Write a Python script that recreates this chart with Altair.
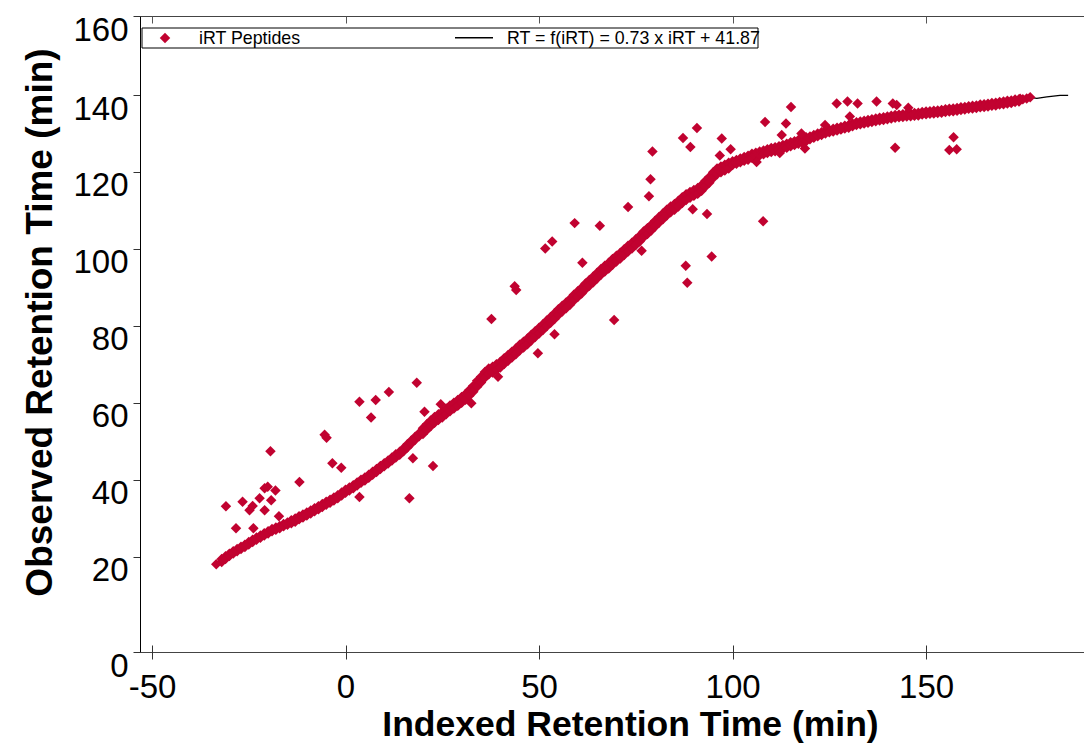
import altair as alt
import pandas as pd

# ---- data ----
band_irt = [-32, -31, -30, -29, -28, -27, -26, -25, -24, -23, -22, -21, -20, -19, -18, -17, -16, -15,
            -14, -13, -12, -11, -10, -9, -8, -7, -6, -5, -4, -3, -2, -1, 0, 1, 2, 3, 4, 5, 6, 7, 8, 9,
            10, 11, 12, 13, 14, 15, 16, 17, 18, 19, 20, 21, 22, 23, 24, 25, 26, 27, 28, 29, 30, 31, 32,
            33, 34, 35, 36, 37, 38, 39, 40, 41, 42, 43, 44, 45, 46, 47, 48, 49, 50, 51, 52, 53, 54, 55,
            56, 57, 58, 59, 60, 61, 62, 63, 64, 65, 66, 67, 68, 69, 70, 71, 72, 73, 74, 75, 76, 77, 78,
            79, 80, 81, 82, 83, 84, 85, 86, 87, 88, 89, 90, 91, 92, 93, 94, 95, 96, 97, 98, 99, 100, 101,
            102, 103, 104, 105, 106, 107, 108, 109, 110, 111, 112, 113, 114, 115, 116, 117, 118, 119, 120,
            121, 122, 123, 124, 125, 126, 127, 128, 129, 130, 131, 132, 133, 134, 135, 136, 137, 138, 139,
            140, 141, 142, 143, 144, 145, 146, 147, 148, 149, 150, 151, 152, 153, 154, 155, 156, 157, 158,
            159, 160, 161, 162, 163, 164, 165, 166, 167, 168, 169, 170, 171, 172, 173, 174]

band_rt_hi = [19.5, 20.1, 20.8, 21.4, 22.0, 22.6, 23.1, 23.8, 24.4, 25.0, 25.5, 26.1, 26.6, 27.2, 27.6, 28.0, 28.5, 28.9,
              29.5, 29.9, 30.5, 31.0, 31.5, 32.0, 32.6, 33.1, 33.7, 34.3, 34.8, 35.4, 36.0, 36.7, 37.4, 38.0, 38.6, 39.3, 40.0, 40.6, 41.3, 42.1, 42.8, 43.6,
              44.3, 45.0, 45.8, 46.6, 47.3, 48.2, 49.2, 50.2, 51.2, 52.1, 53.4, 54.4, 55.4, 56.3, 57.0, 57.7, 58.5, 59.3, 60.0, 60.7, 61.5, 62.3, 63.3,
              64.4, 65.7, 66.8, 68.0, 68.9, 69.4, 70.0, 70.7, 71.6, 72.4, 73.3, 74.1, 75.1, 75.9, 76.7, 77.7, 78.6, 79.5, 80.4, 81.4, 82.3, 83.3, 84.3,
              85.2, 86.1, 87.0, 88.1, 89.0, 89.9, 91.0, 91.9, 92.8, 93.8, 94.8, 95.6, 96.4, 97.4, 98.2, 99.0, 99.9, 100.8, 101.6, 102.5, 103.4, 104.5, 105.4,
              106.3, 107.3, 108.3, 109.2, 110.2, 111.0, 111.7, 112.5, 113.4, 114.2, 114.8, 115.3, 115.8, 116.6, 117.7, 118.7, 119.9, 120.9, 121.4, 121.9, 122.4, 122.8, 123.1,
              123.5, 123.9, 124.2, 124.7, 125.0, 125.3, 125.6, 125.9, 126.2, 126.4, 126.7, 127.0, 127.3, 127.7, 128.0, 128.3, 128.6, 129.0, 129.2,
              129.6, 130.0, 130.3, 130.7, 131.0, 131.2, 131.5, 131.7, 132.0, 132.2, 132.6, 132.9, 133.1, 133.3, 133.5, 133.7, 133.9, 134.1, 134.2,
              134.4, 134.6, 134.8, 134.9, 135.0, 135.1, 135.2, 135.3, 135.4, 135.6, 135.7, 135.8, 135.9, 136.0, 136.1, 136.3, 136.4, 136.5, 136.6,
              136.8, 136.9, 137.1, 137.2, 137.3, 137.5, 137.6, 137.7, 137.9, 138.0, 138.2, 138.3, 138.5, 138.6, 138.8, 138.9]

band_rt_lo = [18.9, 19.5, 20.2, 20.8, 21.4, 22.0, 22.5, 23.2, 23.8, 24.4, 24.9, 25.5, 26.0, 26.6, 27.0, 27.4, 27.9, 28.3,
              28.7, 29.1, 29.7, 30.2, 30.7, 31.2, 31.8, 32.3, 32.9, 33.5, 34.0, 34.6, 35.2, 35.9, 36.6, 37.2, 37.8, 38.5, 39.2, 39.8, 40.5, 41.3, 42.0, 42.8,
              43.5, 44.2, 45.0, 45.8, 46.5, 47.4, 48.4, 49.4, 50.4, 51.3, 51.9, 52.9, 53.9, 54.8, 55.5, 56.2, 57.0, 57.8, 58.5, 59.2, 60.0, 60.8, 61.8,
              62.9, 64.2, 65.3, 66.5, 67.4, 67.9, 68.5, 69.2, 70.1, 70.9, 71.8, 72.6, 73.6, 74.4, 75.2, 76.2, 77.1, 78.0, 78.9, 79.9, 80.8, 81.8, 82.8,
              83.7, 84.6, 85.5, 86.6, 87.5, 88.4, 89.5, 90.4, 91.3, 92.3, 93.3, 94.1, 94.9, 95.9, 96.7, 97.5, 98.4, 99.3, 100.1, 101.0, 101.9, 103.0, 103.9,
              104.8, 105.8, 106.8, 107.7, 108.7, 109.5, 110.2, 111.0, 111.9, 112.7, 113.3, 113.8, 114.3, 115.1, 116.2, 117.2, 118.4, 119.4, 119.9, 120.4, 120.9, 121.8, 122.1,
              122.5, 122.9, 123.2, 123.7, 124.0, 124.3, 124.6, 124.9, 125.2, 125.4, 125.7, 126.0, 126.3, 126.7, 127.0, 127.3, 127.6, 128.0, 128.5,
              128.9, 129.3, 129.6, 130.0, 130.3, 130.5, 130.8, 131.0, 131.3, 131.5, 131.9, 132.2, 132.4, 132.6, 132.8, 133.0, 133.2, 133.4, 133.5,
              133.7, 133.9, 134.1, 134.2, 134.3, 134.4, 134.5, 134.6, 134.7, 134.9, 135.0, 135.1, 135.2, 135.3, 135.4, 135.6, 135.7, 135.8, 135.9,
              136.1, 136.2, 136.4, 136.5, 136.6, 136.8, 136.9, 137.0, 137.2, 137.3, 137.5, 137.6, 137.8, 137.9, 138.2, 138.3]

outlier_irt = [-33.4, -30.9, -26.6, -28.3, -23.8, -24.8, -24.0, -22.2, -20.9, -20.1, -18.1, -19.2, -20.9, -17.2,
               -19.4, -11.9, -5.4, -4.9, -3.4, -1.1, 3.6, 3.6, 7.8, 11.2, 6.6, 16.5, 18.4, 20.4, 24.6, 22.6,
               17.4, 37.7, 43.7, 44.1, 51.6, 53.4, 59.2, 61.2, 65.7, 69.4, 49.7, 54.0, 39.4, 32.5, 73.0, 78.4,
               78.8, 79.3, 87.2, 90.8, 89.1, 97.2, 99.5, 96.7, 108.4, 113.8, 112.7, 106.2, 107.9, 93.4, 89.7,
               94.6, 87.9, 88.3, 76.5, 115.1, 126.9, 129.7, 132.3, 137.2, 141.4, 142.4, 145.4, 130.3, 123.9,
               117.8, 142.0, 118.7, 112.2, 157.1, 156.0, 157.9, 174.3, 175.0, 176.0, 176.9]
outlier_rt = [18.4, 33.1, 34.3, 27.4, 27.4, 32.1, 33.2, 35.2, 37.8, 38.2, 37.2, 34.7, 32.1, 30.5,
              47.4, 39.4, 51.7, 50.9, 44.3, 43.1, 35.5, 60.3, 60.7, 62.8, 56.2, 35.2, 65.2, 57.7, 59.6, 43.6,
              45.6, 81.8, 90.3, 89.3, 100.1, 101.9, 106.7, 96.4, 106.0, 81.5, 72.9, 77.8, 66.8, 59.9, 110.9, 113.7,
              118.1, 125.3, 128.8, 131.4, 126.5, 128.7, 125.9, 124.3, 133.0, 132.6, 129.6, 122.6, 107.2, 109.1, 110.3,
              98.0, 95.6, 91.2, 99.5, 136.9, 137.8, 138.3, 137.8, 138.3, 137.8, 137.4, 136.7, 134.4, 132.2,
              130.0, 126.3, 126.1, 124.9, 129.0, 125.7, 125.9, 139.0, 138.9, 139.1, 139.4]

curve_irt = [-33.4, -29.2, -20.5, -11.9, -3.4, 5.4, 14.0, 22.5, 31.2, 36.4, 39.8, 48.4, 57.1, 65.7, 74.2,
             82.9, 88.1, 91.5, 95.9, 100.1, 104.5, 108.8, 117.4, 124.3, 132.9, 141.5, 150.2, 157.0, 165.7,
             174.3, 176.9, 178.6, 181.2, 184.6, 186.7]
curve_rt = [18.3, 21.0, 26.1, 30.1, 34.7, 40.5, 46.9, 55.1, 61.6, 67.7, 69.8, 77.2, 85.5, 93.7, 101.0,
            109.3, 113.5, 115.3, 120.0, 122.3, 124.0, 125.3, 127.9, 130.5, 132.7, 134.4, 135.3, 136.1, 137.4,
            138.7, 139.4, 139.1, 139.5, 139.9, 139.9]

legend_labels = ["iRT Peptides", "RT = f(iRT) = 0.73 x iRT + 41.87"]
x_ticks = [-50, 0, 50, 100, 150]
y_ticks = [0, 20, 40, 60, 80, 100, 120, 140, 160]

RED = "#C10230"
FONT = "Liberation Sans"

points = pd.DataFrame({
    "iRT": band_irt + band_irt + outlier_irt,
    "RT": band_rt_hi + band_rt_lo + outlier_rt,
})
curve = pd.DataFrame({"iRT": curve_irt, "RT": curve_rt})

xscale = alt.Scale(domain=[-53.1, 190.8], nice=False, zero=False)
# the reference axis is stretched between 0 and 20
yscale = alt.Scale(domain=[0, 20, 140, 160], range=[636, 540.7, 79, 0], nice=False, zero=False)

line_layer = alt.Chart(curve).mark_line(color="black", strokeWidth=1.2).encode(
    x=alt.X("iRT:Q", scale=xscale,
            axis=alt.Axis(orient="top", values=x_ticks, offset=-7, domain=False, labels=False,
                          ticks=True, tickSize=7, tickColor="#555555", tickWidth=1, grid=False, title=None)),
    y=alt.Y("RT:Q", scale=yscale,
            axis=alt.Axis(orient="right", values=[0, 160], domain=False, labels=False, ticks=False,
                          grid=True, gridColor="#444444", gridWidth=1, gridOpacity=1, title=None)),
)

point_layer = alt.Chart(points).mark_point(
    shape="diamond", filled=True, size=110, color=RED, opacity=1, strokeWidth=0
).encode(
    x=alt.X("iRT:Q", scale=xscale,
            axis=alt.Axis(orient="bottom", values=x_ticks, offset=-7, domain=False, tickSize=14,
                          tickColor="#333333", tickWidth=1, grid=False, labelFontSize=33, labelFont=FONT,
                          labelColor="black", labelPadding=12, labelFlush=False,
                          labelExpr="'' + datum.value",
                          title="Indexed Retention Time (min)", titleFontSize=35.5, titleFont=FONT,
                          titleFontWeight="bold", titleColor="black", titleX=490, titleY=90,
                          titleAlign="center", titleBaseline="alphabetic")),
    y=alt.Y("RT:Q", scale=yscale,
            axis=alt.Axis(orient="left", values=y_ticks, domain=True, domainColor="black", domainWidth=1,
                          tickSize=7, tickColor="#333333", tickWidth=1, grid=False, labelFontSize=33,
                          labelFont=FONT, labelColor="black", labelPadding=5, labelBaseline="top",
                          labelOffset=-2, labelFlush=False,
                          title="Observed Retention Time (min)", titleFontSize=37, titleFont=FONT,
                          titleFontWeight="bold", titleColor="black", titleX=-89, titleY=306,
                          titleAngle=270, titleAlign="center", titleBaseline="alphabetic")),
)

one = pd.DataFrame({"a": [0]})
lab1 = pd.DataFrame({"label": [legend_labels[0]]})
lab2 = pd.DataFrame({"label": [legend_labels[1]]})

legend_box = alt.Chart(one).mark_rect(fill="white", stroke="black", strokeWidth=1).encode(
    x=alt.value(2), x2=alt.value(618), y=alt.value(12), y2=alt.value(32))
legend_rule = alt.Chart(one).mark_rule(color="black", strokeWidth=1.5).encode(
    x=alt.value(315), x2=alt.value(353), y=alt.value(21.7))
legend_sym = alt.Chart(one).mark_point(shape="diamond", filled=True, size=110, color=RED, opacity=1,
                                       strokeWidth=0).encode(x=alt.value(25), y=alt.value(22))
legend_t1 = alt.Chart(lab1).mark_text(align="left", baseline="alphabetic", fontSize=17.8, font=FONT,
                                      color="black").encode(text="label:N", x=alt.value(59), y=alt.value(28))
legend_t2 = alt.Chart(lab2).mark_text(align="left", baseline="alphabetic", fontSize=17.8, font=FONT,
                                      color="black").encode(text="label:N", x=alt.value(367), y=alt.value(28))

chart = alt.layer(
    line_layer, point_layer, legend_box, legend_rule, legend_sym, legend_t1, legend_t2
).resolve_axis(x="independent", y="independent").properties(
    width=944, height=636,
    padding={"left": 132, "top": 8, "right": 0, "bottom": 91},
    autosize=alt.AutoSizeParams(type="none"),
    background="white",
).configure_view(stroke="transparent")

chart.save("out.html", embed_options={"renderer": "svg", "actions": False})
